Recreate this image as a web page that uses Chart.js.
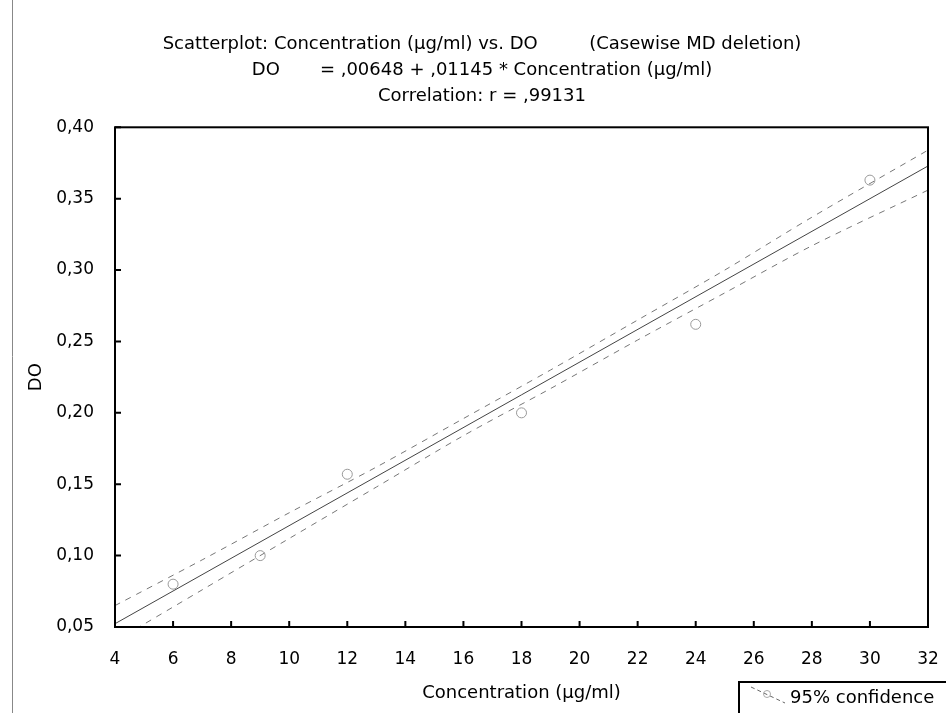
<!DOCTYPE html>
<html>
<head>
<meta charset="utf-8">
<script src="https://cdn.jsdelivr.net/npm/chart.js@4"></script>
<style>
  body { margin: 0; background: #fff; }
  canvas { display: block; }
</style>
</head>
<body>
<canvas id="scatter" width="946" height="713"></canvas>
<script>
// observed points
const concentration = [6, 9, 12, 18, 24, 30];
const doValues = [0.080, 0.100, 0.157, 0.200, 0.262, 0.363];

// regression line ends
const fitX = [4, 32];
const fitY = [0.0523, 0.3729];

// 95% confidence band
const bandX = [4, 7, 10, 13, 16, 19, 22, 25, 28, 32];
const bandUpper = [0.065, 0.097, 0.130, 0.162, 0.196, 0.230, 0.265, 0.300, 0.337, 0.384];
const bandLower = [0.040, 0.076, 0.112, 0.148, 0.184, 0.217, 0.251, 0.284, 0.317, 0.356];

const xTicks = [4, 6, 8, 10, 12, 14, 16, 18, 20, 22, 24, 26, 28, 30, 32];
const yTicks = [0.05, 0.10, 0.15, 0.20, 0.25, 0.30, 0.35, 0.40];

const titleLines = [
    'Scatterplot: Concentration (\u00b5g/ml) vs. DO         (Casewise MD deletion)',
    'DO       = ,00648 + ,01145 * Concentration (\u00b5g/ml)',
    'Correlation: r = ,99131'
];

const FONT = '"DejaVu Sans", sans-serif';

function pairs(xs, ys) {
    return xs.map((x, i) => ({x: x, y: ys[i]}));
}

// frame, inward ticks and the little legend box
const decor = {
    id: 'decor',
    afterDraw(chart) {
        const ctx = chart.ctx;
        const a = chart.chartArea;
        const xs = chart.scales.x, ys = chart.scales.y;
        ctx.save();
        ctx.strokeStyle = '#000';
        ctx.lineWidth = 2;
        ctx.strokeRect(a.left, a.top, a.right - a.left, a.bottom - a.top);
        ctx.beginPath();
        xTicks.forEach(v => {
            const px = xs.getPixelForValue(v);
            ctx.moveTo(px, a.bottom);
            ctx.lineTo(px, a.bottom - 6);
        });
        yTicks.forEach(v => {
            const py = ys.getPixelForValue(v);
            ctx.moveTo(a.left, py);
            ctx.lineTo(a.left + 6, py);
        });
        ctx.stroke();

        // outer figure edge on the left
        ctx.strokeStyle = '#888';
        ctx.lineWidth = 1;
        ctx.beginPath();
        ctx.moveTo(12.5, 0);
        ctx.lineTo(12.5, 713);
        ctx.stroke();

        // legend
        ctx.strokeStyle = '#000';
        ctx.lineWidth = 2;
        ctx.beginPath();
        ctx.moveTo(739, 713);
        ctx.lineTo(739, 682);
        ctx.lineTo(946, 682);
        ctx.stroke();
        ctx.strokeStyle = '#666';
        ctx.lineWidth = 1;
        ctx.setLineDash([4, 3]);
        ctx.beginPath();
        ctx.moveTo(751, 687);
        ctx.lineTo(785, 703);
        ctx.stroke();
        ctx.setLineDash([]);
        ctx.strokeStyle = '#aaa';
        ctx.beginPath();
        ctx.arc(767, 694, 3.5, 0, Math.PI * 2);
        ctx.stroke();
        ctx.fillStyle = '#000';
        ctx.font = '18px ' + FONT;
        ctx.textBaseline = 'middle';
        ctx.fillText('95% confidence', 790, 698);
        ctx.restore();
    }
};

new Chart(document.getElementById('scatter'), {
    type: 'scatter',
    data: {
        datasets: [
            {
                label: 'DO',
                data: pairs(concentration, doValues),
                pointRadius: 5,
                pointStyle: 'circle',
                borderColor: '#999',
                backgroundColor: 'rgba(0,0,0,0)',
                borderWidth: 1
            },
            {
                label: 'fit',
                type: 'line',
                data: pairs(fitX, fitY),
                borderColor: '#444',
                borderWidth: 1,
                pointRadius: 0,
                fill: false
            },
            {
                label: 'upper',
                type: 'line',
                data: pairs(bandX, bandUpper),
                borderColor: '#777',
                borderWidth: 1,
                borderDash: [6, 6],
                pointRadius: 0,
                tension: 0.3,
                fill: false
            },
            {
                label: 'lower',
                type: 'line',
                data: pairs(bandX, bandLower),
                borderColor: '#777',
                borderWidth: 1,
                borderDash: [6, 6],
                pointRadius: 0,
                tension: 0.3,
                fill: false
            }
        ]
    },
    options: {
        responsive: false,
        animation: false,
        layout: {padding: {left: 36, right: 18, top: 0, bottom: 0}},
        plugins: {
            legend: {display: false},
            tooltip: {enabled: false},
            title: {
                display: true,
                text: titleLines,
                color: '#000',
                font: {family: FONT, size: 18, weight: 'normal', lineHeight: 1.45},
                padding: {top: 31, bottom: 18}
            }
        },
        scales: {
            x: {
                type: 'linear',
                min: 4,
                max: 32,
                afterBuildTicks: s => { s.ticks = xTicks.map(v => ({value: v})); },
                afterFit: s => { s.height = 86; s.paddingRight = 0; },
                grid: {display: false},
                border: {display: false},
                ticks: {
                    color: '#000',
                    padding: 14,
                    maxRotation: 0,
                    font: {family: FONT, size: 17},
                    callback: v => String(v)
                },
                title: {
                    display: true,
                    text: 'Concentration (\u00b5g/ml)',
                    color: '#000',
                    font: {family: FONT, size: 18},
                    padding: {top: 0, bottom: 9}
                }
            },
            y: {
                type: 'linear',
                min: 0.05,
                max: 0.40,
                afterBuildTicks: s => { s.ticks = yTicks.map(v => ({value: v})); },
                afterFit: s => { s.width = 79; },
                grid: {display: false},
                border: {display: false},
                ticks: {
                    color: '#000',
                    padding: 13,
                    font: {family: FONT, size: 17},
                    callback: v => v.toFixed(2).replace('.', ',')
                },
                title: {
                    display: true,
                    text: 'DO',
                    color: '#000',
                    font: {family: FONT, size: 18},
                    padding: {top: -10, bottom: 0}
                }
            }
        }
    },
    plugins: [decor]
});
</script>
</body>
</html>
